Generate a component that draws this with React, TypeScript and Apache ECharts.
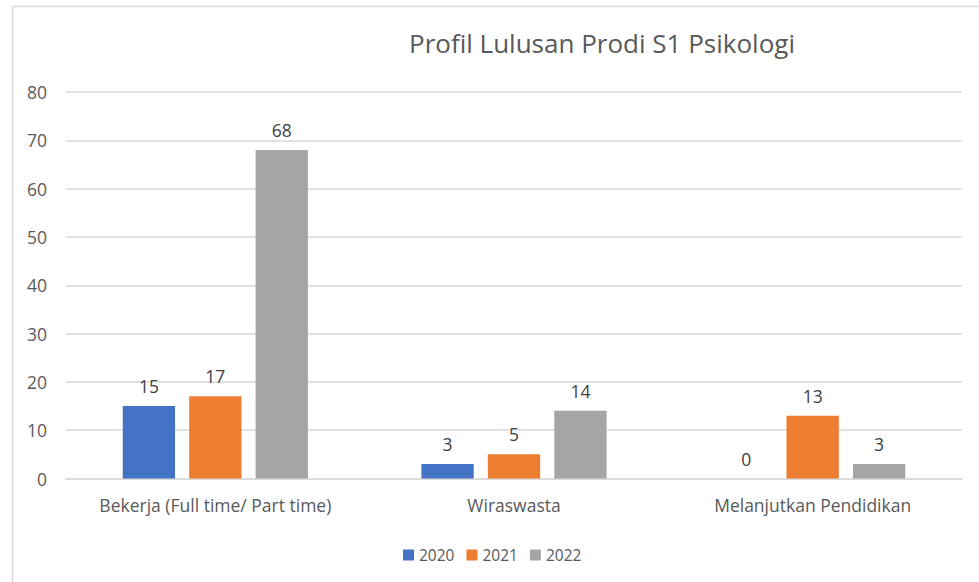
import React, { useEffect, useRef } from "react";
import * as echarts from "echarts";

const categories = ["Bekerja (Full time/ Part time)", "Wiraswasta", "Melanjutkan Pendidikan"];
const seriesNames = ["2020", "2021", "2022"];
const values2020 = [15, 3, 0];
const values2021 = [17, 5, 13];
const values2022 = [68, 14, 3];
const colors = ["#4472C4", "#ED7D31", "#A5A5A5"];
const yTicks = { min: 0, max: 80, interval: 10 };

const FONT = "'Open Sans', 'Noto Sans', sans-serif";

export default function App() {
  const ref = useRef<HTMLDivElement>(null);
  useEffect(() => {
    if (!ref.current) return;
    const chart = echarts.init(ref.current, null, { renderer: "svg" });
    const data = [values2020, values2021, values2022];
    chart.setOption({
      animation: false,
      backgroundColor: "#ffffff",
      textStyle: { fontFamily: FONT },
      title: {
        text: "Profil Lulusan Prodi S1 Psikologi",
        left: 597,
        textAlign: "center",
        top: 25,
        textStyle: { fontFamily: FONT, fontSize: 26, fontWeight: "normal", color: "#595959" },
      },
      graphic: [
        {
          type: "rect",
          shape: { x: 12.5, y: 6.5, width: 980, height: 600 },
          style: { fill: "none", stroke: "#d9d9d9", lineWidth: 1.5 },
          silent: true,
        },
      ],
      legend: {
        data: seriesNames,
        left: 398,
        top: 542,
        itemWidth: 11,
        itemHeight: 11,
        itemGap: 12,
        icon: "rect",
        textStyle: { fontFamily: FONT, fontSize: 15.5, color: "#595959" },
      },
      grid: { left: 66, right: 17, top: 92, bottom: 103.5 },
      xAxis: {
        type: "category",
        data: categories,
        axisLine: { show: true, lineStyle: { color: "#d9d9d9", width: 1.5 } },
        axisTick: { show: false },
        axisLabel: { interval: 0, fontFamily: FONT, fontSize: 17.5, color: "#595959", margin: 17 },
      },
      yAxis: {
        type: "value",
        min: yTicks.min,
        max: yTicks.max,
        interval: yTicks.interval,
        axisLine: { show: false },
        axisTick: { show: false },
        splitLine: { lineStyle: { color: "#d9d9d9", width: 1.5 } },
        axisLabel: { fontFamily: FONT, fontSize: 17.5, color: "#595959", margin: 19 },
      },
      series: seriesNames.map((name, i) => ({
        name,
        type: "bar",
        data: data[i],
        itemStyle: { color: colors[i] },
        barGap: "27%",
        barCategoryGap: "38%",
        label: {
          show: true,
          position: "top",
          distance: 11,
          fontFamily: FONT,
          fontSize: 17.5,
          color: "#404040",
        },
      })),
    });
    return () => chart.dispose();
  }, []);
  return (
    <div
      ref={ref}
      style={{ position: "fixed", left: 0, top: 0, width: 979, height: 582 }}
    />
  );
}
